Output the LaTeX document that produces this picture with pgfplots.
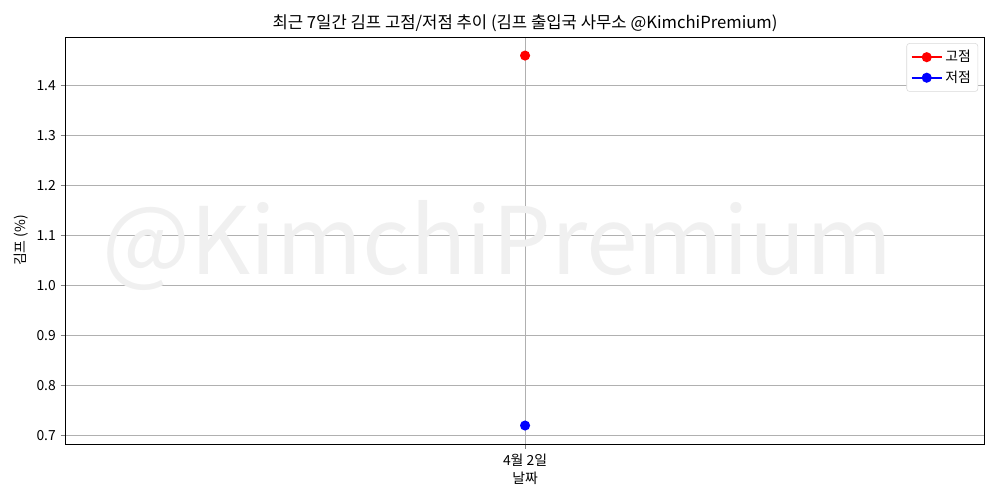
\documentclass[border=0pt]{standalone}
\usepackage{pgfplots}
\pgfplotsset{compat=1.18}
\usepackage{fontspec}
\setmainfont{Noto Sans CJK KR}
\begin{document}
\begin{tikzpicture}
\begin{axis}[
  at={(0,0)}, anchor=south west,
  scale only axis,
  width=661.7pt, height=293pt,
  xmin=-1, xmax=1,
  ymin=0.683, ymax=1.497,
  xtick={0}, xticklabels={4월 2일},
  ytick={0.7,0.8,0.9,1.0,1.1,1.2,1.3,1.4},
  yticklabel style={/pgf/number format/.cd,fixed,fixed zerofill,precision=1},
  /pgf/number format/assume math mode=true,
  tick label style={font=\fontsize{10}{12}\selectfont},
  label style={font=\fontsize{10}{12}\selectfont},
  xlabel={날짜}, ylabel={김프 (\%)},
  xlabel style={yshift=3pt},
  ylabel style={yshift=-1pt},
  title={최근 7일간 김프 고점/저점 추이 (김프 출입국 사무소 @KimchiPremium)},
  title style={font=\fontsize{12}{14}\selectfont, yshift=-5.5pt},
  grid=major,
  major grid style={color=black!31, line width=0.6pt},
  tick align=outside, tick pos=left,
  major tick length=3.5pt,
  axis line style={line width=0.6pt},
  legend style={at={(0.993,0.985)}, anchor=north east, draw=black!15, rounded corners=2pt, font=\fontsize{10}{12}\selectfont, cells={anchor=west}, inner sep=3pt, row sep=1pt},
  legend cell align=left,
  legend image code/.code={\draw[mark repeat=2,mark phase=2] plot coordinates {(0cm,0cm) (0.38cm,0cm) (0.76cm,0cm)};},
  set layers,
]
\node[on layer=axis background, text=black!6, font=\fontsize{67}{75}\selectfont] at (axis cs:-0.06,1.08) {@KimchiPremium};
\addplot[red, line width=1.2pt, mark=*, mark size=3pt, mark options={fill=red}] coordinates {(0,1.46)};
\addlegendentry{고점}
\addplot[blue, line width=1.2pt, mark=*, mark size=3pt, mark options={fill=blue}] coordinates {(0,0.72)};
\addlegendentry{저점}
\end{axis}
\path (-47.2pt,-40.3pt) rectangle ++(720pt,360pt);
\end{tikzpicture}
\end{document}
